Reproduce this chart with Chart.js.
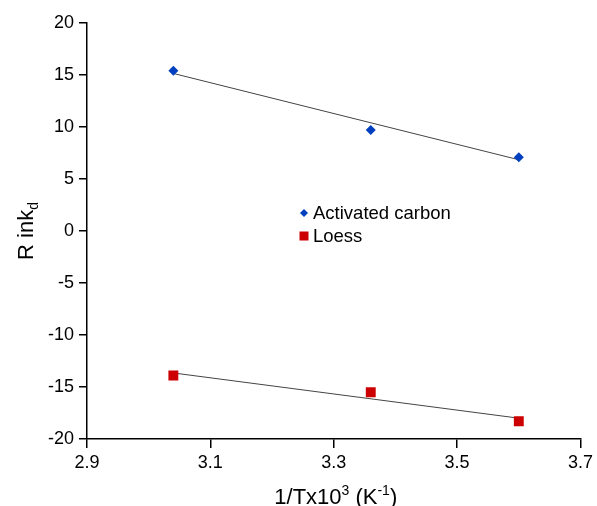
<!DOCTYPE html>
<html>
<head>
<meta charset="utf-8">
<script src="https://cdn.jsdelivr.net/npm/chart.js@4.4.0/dist/chart.umd.min.js"></script>
<style>
  html, body { margin: 0; padding: 0; background: #fff; }
  #wrap { width: 597px; height: 506px; }
</style>
</head>
<body>
<div id="wrap"><canvas id="chart" width="597" height="506"></canvas></div>
<script>
// values
const xValues = [3.04, 3.36, 3.60];
const carbonValues = [15.4, 9.7, 7.1];
const loessValues = [-13.9, -15.5, -18.3];
// fitted trend lines (end points)
const trendX = [3.04, 3.60];
const carbonTrend = [15.15, 6.85];
const loessTrend = [-13.65, -18.0];
const xTicks = [2.9, 3.1, 3.3, 3.5, 3.7];
const yTicks = [-20, -15, -10, -5, 0, 5, 10, 15, 20];
const seriesNames = ['Activated carbon', 'Loess'];

const FONT = "'Liberation Sans', Arial, sans-serif";
const BLUE = '#0040c0';
const RED = '#cc0000';

const toPoints = (xs, ys) => xs.map((x, i) => ({ x: x, y: ys[i] }));

// draws a run of text pieces (for super/subscripts), centred on x
function drawRich(ctx, parts, x, y) {
  let total = 0;
  parts.forEach(p => {
    ctx.font = p.size + 'px ' + FONT;
    p.w = ctx.measureText(p.text).width;
    total += p.w;
  });
  let cx = x - total / 2;
  ctx.textAlign = 'left';
  ctx.textBaseline = 'alphabetic';
  parts.forEach(p => {
    ctx.font = p.size + 'px ' + FONT;
    ctx.fillText(p.text, cx, y + (p.dy || 0));
    cx += p.w;
  });
}

const extrasPlugin = {
  id: 'extras',
  afterDraw(chart) {
    const ctx = chart.ctx;
    const area = chart.chartArea;
    ctx.save();
    ctx.fillStyle = '#000';

    // x axis title
    drawRich(ctx, [
      { text: '1/Tx10', size: 22 },
      { text: '3', size: 14, dy: -9 },
      { text: ' (K', size: 22 },
      { text: '-1', size: 14, dy: -9 },
      { text: ')', size: 22 }
    ], (area.left + area.right) / 2 + 2, 504);

    // y axis title
    ctx.save();
    ctx.translate(33, (area.top + area.bottom) / 2);
    ctx.rotate(-Math.PI / 2);
    drawRich(ctx, [
      { text: 'R ink', size: 22 },
      { text: 'd', size: 14, dy: 5 }
    ], 0, 0);
    ctx.restore();

    // legend inside the plot
    const lx = area.left + 217;
    const ly = area.top + 190;
    ctx.fillStyle = BLUE;
    ctx.beginPath();
    ctx.moveTo(lx, ly - 4);
    ctx.lineTo(lx + 4, ly);
    ctx.lineTo(lx, ly + 4);
    ctx.lineTo(lx - 4, ly);
    ctx.closePath();
    ctx.fill();
    ctx.fillStyle = RED;
    ctx.fillRect(lx - 4.5, ly + 23 - 4.5, 9, 9);

    ctx.fillStyle = '#000';
    ctx.font = '18.5px ' + FONT;
    ctx.textAlign = 'left';
    ctx.textBaseline = 'alphabetic';
    ctx.fillText(seriesNames[0], lx + 9, ly + 6);
    ctx.fillText(seriesNames[1], lx + 9, ly + 29);
    ctx.restore();
  }
};

const ctx = document.getElementById('chart').getContext('2d');
new Chart(ctx, {
  type: 'scatter',
  data: {
    datasets: [
      {
        label: seriesNames[0],
        data: toPoints(xValues, carbonValues),
        pointStyle: 'rectRot',
        pointRadius: 5,
        backgroundColor: BLUE,
        borderColor: BLUE,
        borderWidth: 0,
        order: 1
      },
      {
        label: seriesNames[1],
        data: toPoints(xValues, loessValues),
        pointStyle: 'rect',
        pointRadius: 7,
        backgroundColor: RED,
        borderColor: RED,
        borderWidth: 0,
        order: 1
      },
      {
        label: 'trend 1',
        data: toPoints(trendX, carbonTrend),
        showLine: true,
        pointRadius: 0,
        borderColor: '#444',
        borderWidth: 1,
        order: 2
      },
      {
        label: 'trend 2',
        data: toPoints(trendX, loessTrend),
        showLine: true,
        pointRadius: 0,
        borderColor: '#444',
        borderWidth: 1,
        order: 2
      }
    ]
  },
  options: {
    responsive: false,
    animation: false,
    devicePixelRatio: 1,
    layout: { padding: { top: 23, right: 15, left: 0, bottom: 0 } },
    plugins: {
      legend: { display: false },
      tooltip: { enabled: false }
    },
    scales: {
      x: {
        type: 'linear',
        min: 2.9,
        max: 3.7,
        afterBuildTicks: s => { s.ticks = xTicks.map(v => ({ value: v })); },
        afterFit: s => { s.height = 67; },
        grid: { drawOnChartArea: false, drawTicks: true, tickLength: 9, color: '#000', lineWidth: 1.5 },
        border: { display: true, color: '#000', width: 1.5 },
        ticks: {
          color: '#000',
          font: { family: FONT, size: 18 },
          padding: 4,
          maxRotation: 0,
          callback: v => v.toFixed(1)
        }
      },
      y: {
        type: 'linear',
        min: -20,
        max: 20,
        afterBuildTicks: s => { s.ticks = yTicks.map(v => ({ value: v })); },
        afterFit: s => { s.width = 87; },
        grid: { drawOnChartArea: false, drawTicks: true, tickLength: 8, color: '#000', lineWidth: 1.5 },
        border: { display: true, color: '#000', width: 1.5 },
        ticks: {
          color: '#000',
          font: { family: FONT, size: 18 },
          padding: 5,
          callback: v => String(v)
        }
      }
    }
  },
  plugins: [extrasPlugin]
});
</script>
</body>
</html>
